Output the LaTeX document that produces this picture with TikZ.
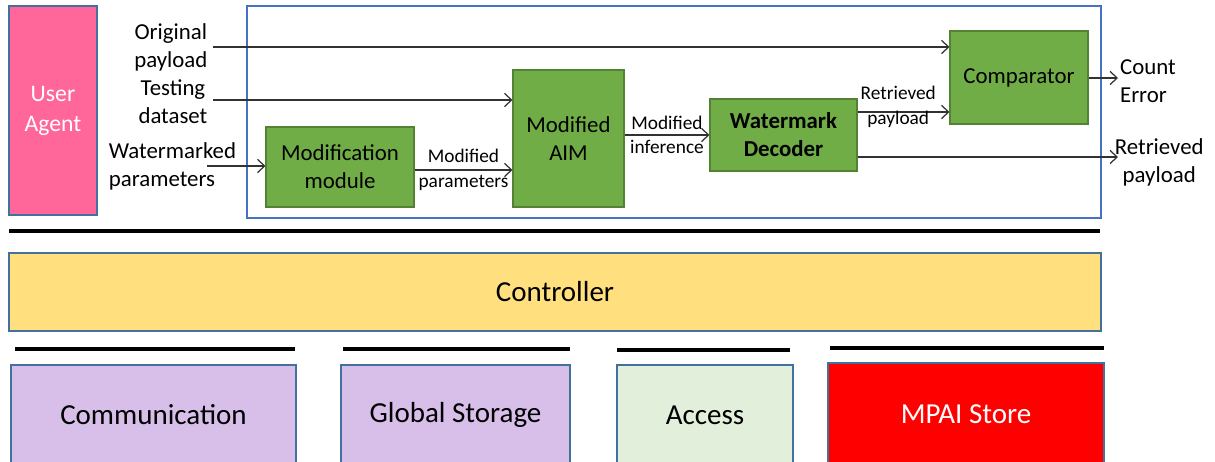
\documentclass[tikz,border=0pt]{standalone}
\usepackage{fontspec}
\setmainfont{Carlito}
\usepackage{tikz}
\usetikzlibrary{arrows.meta, positioning}
\definecolor{agentpink}{RGB}{255,102,153}
\definecolor{framblue}{RGB}{68,114,196}
\definecolor{edgeblue}{RGB}{65,113,156}
\definecolor{aimgreen}{RGB}{112,173,71}
\definecolor{aimedge}{RGB}{84,130,53}
\definecolor{ctrlyellow}{RGB}{255,223,126}
\definecolor{lavender}{RGB}{216,191,234}
\definecolor{accgreen}{RGB}{226,239,218}
\definecolor{arrowgray}{RGB}{50,50,50}
\newcommand{\pxu}{0.02cm}
\tikzset{
  sized/.style 2 args={minimum width=#1*\pxu, minimum height=#2*\pxu},
  basebox/.style={draw=edgeblue, line width=0.6pt, inner sep=0pt, align=center,
    font=\fontsize{16.5}{20}\selectfont},
  greenbox/.style={draw=aimedge, fill=aimgreen, line width=0.6pt, inner sep=0pt,
    align=center, font=\fontsize{13}{16}\selectfont},
  arrowline/.style={draw=arrowgray, line width=0.7pt,
    -{Straight Barb[length=4pt,width=7.5pt]}},
  sidelabel/.style={align=center, inner sep=2pt, font=\fontsize{13}{16}\selectfont},
  smalllabel/.style={align=center, inner sep=0pt, font=\fontsize{11}{14}\selectfont},
  busline/.style={line width=1.8pt, black}
}

\begin{document}
\begin{tikzpicture}[x=0.02cm, y=-0.02cm]
  \useasboundingbox (0,0) rectangle (1215,462);
  \clip (0,0) rectangle (1215,462);

  % user agent and the AIM frame
  \node[basebox, fill=agentpink, text=white, font=\fontsize{13.5}{17}\selectfont,
    sized={88}{209}] (agent) at (53,110.5) {User\\Agent};
  \draw[framblue, line width=0.6pt] (247,6) rectangle (1101,218);

  % processing modules
  \node[greenbox, sized={148}{80}] (mod) at (340,167) {Modification\\module};
  \node[greenbox, sized={111}{137}] (aim) at (568.5,138.5) {Modified\\AIM};
  \node[greenbox, font=\fontsize{13}{16}\selectfont\bfseries,
    sized={147}{72}] (dec) at (783.5,135) {Watermark\\Decoder};
  \node[greenbox, sized={138}{93}] (cmp) at (1019,77.5) {Comparator};

  % inputs
  \coordinate (orgin) at (213,47);
  \coordinate (tstin) at (213,100);
  \coordinate (wmin) at (207,166);
  \node[sidelabel, left=1pt of orgin] (org) {Original\\payload};
  \node[sidelabel, left=1pt of tstin, yshift=-1pt] (tst) {Testing\\dataset};
  \node[sidelabel, align=left, anchor=west] (wm) at (105,166) {Watermarked\\parameters};
  \draw[arrowline] (orgin) -- (orgin -| cmp.west);
  \draw[arrowline] (tstin) -- (tstin -| aim.west);
  \draw[arrowline] (wmin) -- (wmin -| mod.west);

  % internal flow
  \draw[arrowline] (mod.east |- 0,170) -- (aim.west |- 0,170)
    node[smalllabel, midway] {Modified\\parameters};
  \draw[arrowline] (aim.east |- dec.west) -- (dec.west)
    node[smalllabel, midway] {Modified\\inference};
  \draw[arrowline] (dec.east |- 0,112) -- (cmp.west |- 0,112)
    node[smalllabel, midway, xshift=-3pt, yshift=3pt] {Retrieved\\payload};

  % outputs
  \coordinate (cntout) at (1118,78);
  \coordinate (retout) at (1118,157);
  \draw[arrowline] (cmp.east |- cntout) -- (cntout);
  \draw[arrowline] (dec.east |- retout) -- (retout);
  \node[sidelabel, align=left, anchor=west, inner sep=1pt] (cnt) at ([yshift=-2pt]cntout)
    {Count\\Error};
  \node[sidelabel, anchor=west, inner sep=0pt] (ret) at ([xshift=-2pt, yshift=-3pt]retout)
    {Retrieved\\payload};

  % controller layer
  \draw[busline] (9,231) -- (1100,231);
  \node[basebox, fill=ctrlyellow, sized={1092}{78}] (ctrl) at (555,292) {Controller};
  \draw[busline] (15,349) -- (295,349);
  \draw[busline] (343,349) -- (570,349);
  \draw[busline] (617,350) -- (790,350);
  \draw[busline] (830,348) -- (1104,348);

  % resources
  \node[basebox, fill=lavender, sized={285}{100}] (comm) at (153.5,415) {Communication};
  \node[basebox, fill=lavender, sized={229}{100}] (stor) at (455.5,415) {Global Storage};
  \node[basebox, fill=accgreen, sized={176}{100}] (acc) at (705,415) {Access};
  \node[basebox, fill=red, text=white, sized={276}{102}] (store) at (966,414) {MPAI Store};
\end{tikzpicture}
\end{document}
